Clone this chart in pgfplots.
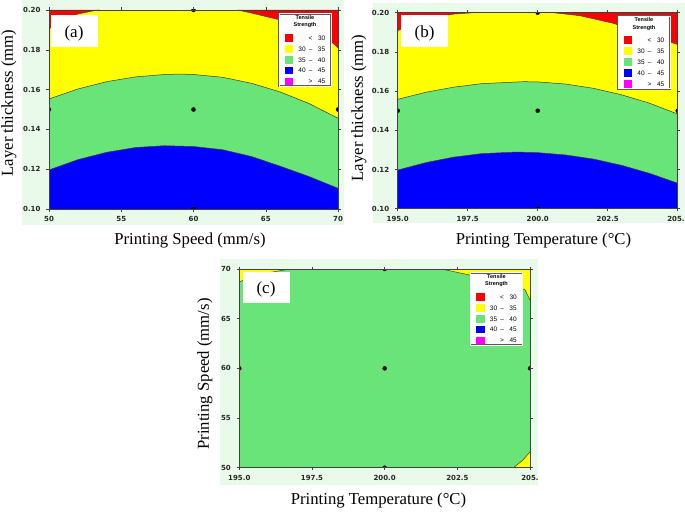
\documentclass[border=0pt]{standalone}
\usepackage{fontspec}
\setmainfont{Liberation Serif}
\setsansfont{Liberation Sans}
\newfontfamily\tickfont{DejaVu Sans}
\usepackage{pgfplots}
\pgfplotsset{compat=1.18}
\definecolor{cgreen}{RGB}{104,228,120}
\definecolor{cyellow}{RGB}{255,255,0}
\definecolor{cblue}{RGB}{0,0,255}
\definecolor{cred}{RGB}{255,0,0}
\definecolor{cmag}{RGB}{255,0,255}
\definecolor{pale}{RGB}{234,250,234}
\definecolor{edge}{RGB}{60,60,45}

\newcommand{\sq}[1]{\textcolor{#1}{\rule[-1.5pt]{8.7pt}{7.8pt}}}
\newcommand{\tslegend}{%
 \sffamily\fontsize{6.5}{7.6}\selectfont
 \begin{tabular}{@{}l@{\hspace{5pt}}r@{\hspace{3pt}}c@{\hspace{5.5pt}}r@{}}
 \multicolumn{4}{c}{\bfseries\fontsize{5.5}{6}\selectfont Tensile}\\
 \multicolumn{4}{c}{\bfseries\fontsize{5.5}{6}\selectfont Strength}\\[4.8pt]
 \sq{cred} & & < & 30\\[2.4pt]
 \sq{cyellow} & 30 & – & 35\\[2.4pt]
 \sq{cgreen} & 35 & – & 40\\[2.4pt]
 \sq{cblue} & 40 & – & 45\\[2.4pt]
 \sq{cmag} & & > & 45
 \end{tabular}}
\tikzset{legbox/.style={draw=black!65, double=white, double distance=0.8pt, line width=0.5pt, fill=white, minimum width=52pt, minimum height=72pt, inner sep=0pt},
 lab/.style={font=\fontsize{16.7}{18}\selectfont}}

\pgfplotsset{
 cplot/.style={scale only axis, anchor=south west, axis on top, clip marker paths=true,
   tick align=outside, major tick length=2.5pt,
   axis line style={draw=black!75, line width=0.6pt},
   tick style={black!75, line width=0.5pt},
   tick label style={font=\tickfont\bfseries\fontsize{7}{8}\selectfont, text=black!85},
   yticklabel style={xshift=-2.5pt},
   xticklabel style={yshift=-1.5pt},
   /pgf/number format/assume math mode=true},
 edgeline/.style={draw=edge, line width=0.5pt},
 dots/.style={only marks, mark=*, mark size=2pt, black}
}

\begin{document}
\begin{tikzpicture}
\useasboundingbox (0,0) rectangle (685pt,515pt);
\fill[pale] (22pt,290pt) rectangle (344pt,515pt);
\fill[pale] (373pt,292pt) rectangle (685pt,512pt);
\fill[pale] (220pt,30pt) rectangle (538pt,256pt);

% ---------------- (a)
\begin{axis}[cplot, at={(49pt,306pt)}, width=289pt, height=199pt,
  xmin=50, xmax=70, ymin=0.1, ymax=0.2,
  xtick={50,55,60,65,70}, xticklabels={50,55,60,65,70},
  ytick={0.10,0.12,0.14,0.16,0.18,0.20}, yticklabels={0.10,0.12,0.14,0.16,0.18,0.20}]
\addplot[fill=cyellow, draw=none] coordinates {(50,0.1) (70,0.1) (70,0.2) (50,0.2)};
\addplot[fill=cgreen, draw=none] coordinates {(50,0.1) (50,0.1553) (52,0.1603) (54,0.1640) (56,0.1664) (58,0.1676) (59,0.1678) (60,0.1676) (62,0.1662) (64,0.1632) (66,0.1588) (68,0.1530) (70,0.1456) (70,0.1)};
\addplot[fill=cblue, draw=none] coordinates {(50,0.1) (50,0.1196) (52,0.1248) (54,0.1285) (56,0.1309) (58,0.1318) (60,0.1314) (62,0.1298) (64,0.1264) (66,0.1215) (68,0.1163) (70,0.1104) (70,0.1)};
\addplot[fill=cred, draw=none] coordinates {(50,0.2) (50,0.1905) (51,0.1955) (52,0.1980) (53,0.1995) (53.5,0.2)};
\addplot[fill=cred, draw=none] coordinates {(63.05,0.2) (64,0.1985) (66,0.1950) (68,0.1900) (69.6,0.1836) (70,0.1811) (70,0.2)};
\addplot[edgeline] coordinates {(50,0.1553) (52,0.1603) (54,0.1640) (56,0.1664) (58,0.1676) (59,0.1678) (60,0.1676) (62,0.1662) (64,0.1632) (66,0.1588) (68,0.1530) (70,0.1456)};
\addplot[edgeline] coordinates {(50,0.1196) (52,0.1248) (54,0.1285) (56,0.1309) (58,0.1318) (60,0.1314) (62,0.1298) (64,0.1264) (66,0.1215) (68,0.1163) (70,0.1104)};
\addplot[edgeline] coordinates {(50,0.1905) (51,0.1955) (52,0.1980) (53,0.1995) (53.5,0.2)};
\addplot[edgeline] coordinates {(63.05,0.2) (64,0.1985) (66,0.1950) (68,0.1900) (69.6,0.1836) (70,0.1811)};
\addplot[dots] coordinates {(50,0.15) (60,0.15) (70,0.15) (60,0.2) (60,0.1)};
\end{axis}

% ---------------- (b)
\begin{axis}[cplot, at={(397.7pt,306.3pt)}, width=280pt, height=196pt,
  xmin=195, xmax=205, ymin=0.1, ymax=0.2,
  xtick={195,197.5,200,202.5,205}, xticklabels={195.0,197.5,200.0,202.5,\kern-3.5pt205.},
  ytick={0.10,0.12,0.14,0.16,0.18,0.20}, yticklabels={0.10,0.12,0.14,0.16,0.18,0.20}]
\addplot[fill=cyellow, draw=none] coordinates {(195,0.1) (205,0.1) (205,0.2) (195,0.2)};
\addplot[fill=cgreen, draw=none] coordinates {(195,0.1) (195,0.1558) (196,0.1594) (197,0.1620) (198,0.1638) (199.5,0.1648) (200,0.1647) (201,0.1636) (202,0.1614) (203,0.1581) (204,0.1538) (205,0.1483) (205,0.1)};
\addplot[fill=cblue, draw=none] coordinates {(195,0.1) (195,0.1197) (196,0.1235) (197,0.1263) (198,0.1281) (199.25,0.1289) (200,0.1286) (201,0.1274) (202,0.1253) (203,0.1221) (204,0.1180) (205,0.1130) (205,0.1)};
\addplot[fill=cred, draw=none] coordinates {(195,0.2) (195,0.1908) (195.5,0.1945) (196,0.1970) (197,0.1993) (197.7,0.2)};
\addplot[fill=cred, draw=none] coordinates {(200.56,0.2) (201.5,0.1985) (202.7,0.1946) (204,0.1885) (204.8,0.1847) (205,0.1838) (205,0.2)};
\addplot[edgeline] coordinates {(195,0.1558) (196,0.1594) (197,0.1620) (198,0.1638) (199.5,0.1648) (200,0.1647) (201,0.1636) (202,0.1614) (203,0.1581) (204,0.1538) (205,0.1483)};
\addplot[edgeline] coordinates {(195,0.1197) (196,0.1235) (197,0.1263) (198,0.1281) (199.25,0.1289) (200,0.1286) (201,0.1274) (202,0.1253) (203,0.1221) (204,0.1180) (205,0.1130)};
\addplot[edgeline] coordinates {(195,0.1908) (195.5,0.1945) (196,0.1970) (197,0.1993) (197.7,0.2)};
\addplot[edgeline] coordinates {(200.56,0.2) (201.5,0.1985) (202.7,0.1946) (204,0.1885) (204.8,0.1847) (205,0.1838)};
\addplot[dots] coordinates {(195,0.15) (200,0.15) (205,0.15) (200,0.2) (200,0.1)};
\end{axis}

% ---------------- (c)
\begin{axis}[cplot, at={(239.3pt,47.3pt)}, width=290.7pt, height=198.7pt,
  xmin=195, xmax=205, ymin=50, ymax=70,
  xtick={195,197.5,200,202.5,205}, xticklabels={195.0,197.5,200.0,202.5,205.},
  ytick={50,55,60,65,70}, yticklabels={50,55,60,65,70}]
\addplot[fill=cgreen, draw=none] coordinates {(195,50) (205,50) (205,70) (195,70)};
\addplot[fill=cyellow, draw=none] coordinates {(195,70) (195,68.72) (195.87,69.56) (196.74,70)};
\addplot[fill=cyellow, draw=none] coordinates {(201.96,70) (202.91,69.40) (203.9,68.9) (204.83,67.9) (205,66.88) (205,70)};
\addplot[fill=cyellow, draw=none] coordinates {(204.43,50) (204.75,50.75) (205,51.6) (205,50)};
\addplot[edgeline] coordinates {(195,68.72) (195.87,69.56) (196.74,70)};
\addplot[edgeline] coordinates {(201.96,70) (202.91,69.40) (203.9,68.9) (204.83,67.9) (205,66.88)};
\addplot[edgeline] coordinates {(204.43,50) (204.75,50.75) (205,51.6)};
\addplot[dots] coordinates {(195,60) (200,60) (205,60) (200,70) (200,50)};
\end{axis}

% panel tags
\fill[white] (51pt,468pt) rectangle (98pt,500pt);
\node[font=\fontsize{17}{18}\selectfont] at (74pt,482pt) {(a)};
\fill[white] (401pt,468pt) rectangle (448pt,500pt);
\node[font=\fontsize{17}{18}\selectfont] at (424.5pt,482pt) {(b)};
\fill[white] (243pt,212pt) rectangle (290pt,243pt);
\node[font=\fontsize{17}{18}\selectfont] at (266pt,226pt) {(c)};

% legends
\node[legbox] at (305pt,465pt) {\tslegend};
\node[legbox] at (644pt,462.5pt) {\tslegend};
\node[legbox] at (496.5pt,206pt) {\tslegend};

% axis titles
\node[lab, rotate=90] at (9pt,412pt) {Layer thickness (mm)};
\node[lab] at (190pt,274pt) {Printing Speed (mm/s)};
\node[lab, rotate=90] at (359pt,407pt) {Layer thickness (mm)};
\node[lab] at (543.5pt,274.5pt) {Printing Temperature (°C)};
\node[lab, rotate=90] at (205pt,141pt) {Printing Speed (mm/s)};
\node[lab] at (378.5pt,14.5pt) {Printing Temperature (°C)};
\end{tikzpicture}
\end{document}
